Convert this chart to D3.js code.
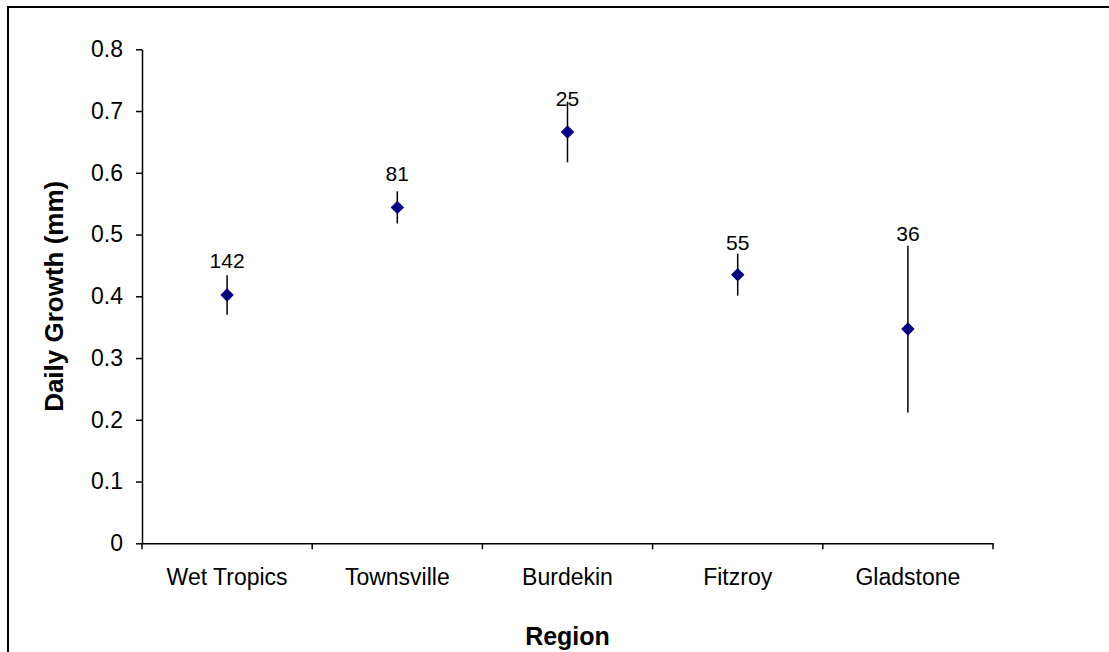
<!DOCTYPE html>
<html>
<head>
<meta charset="utf-8">
<script src="https://cdn.jsdelivr.net/npm/d3@7"></script>
<style>
  html, body { margin: 0; padding: 0; background: #fff; }
  svg { display: block; font-family: "Liberation Sans", Arial, sans-serif; }
</style>
</head>
<body>
<svg id="chart" width="1109" height="652"></svg>
<script>
// Chart data
const regions = ["Wet Tropics", "Townsville", "Burdekin", "Fitzroy", "Gladstone"];
const meanGrowth = [0.402, 0.544, 0.666, 0.435, 0.347];
const errorSize = [0.032, 0.026, 0.049, 0.034, 0.135];
const sampleCounts = [142, 81, 25, 55, 36];
// value (mm) at which each sample-size label sits
const labelAt = [0.446, 0.587, 0.708, 0.475, 0.490];
const yTicks = [0, 0.1, 0.2, 0.3, 0.4, 0.5, 0.6, 0.7, 0.8];

const svg = d3.select("#chart");
const width = +svg.attr("width");
const height = +svg.attr("height");

// outer frame (only top/left edges fall inside the window)
svg.append("rect")
  .attr("x", 8).attr("y", 7)
  .attr("width", width + 10).attr("height", height + 10)
  .attr("fill", "#fff")
  .attr("stroke", "#000")
  .attr("stroke-width", 2);

const plot = { left: 142, right: 993, top: 49.3, bottom: 543.3 };

const x = d3.scaleBand()
  .domain(regions)
  .range([plot.left, plot.right])
  .padding(0);

const y = d3.scaleLinear()
  .domain([0, 0.8])
  .range([plot.bottom, plot.top]);

const data = regions.map((r, i) => ({
  region: r,
  mean: meanGrowth[i],
  err: errorSize[i],
  n: sampleCounts[i],
  label: labelAt[i]
}));

// y axis
const yAxis = svg.append("g")
  .attr("transform", `translate(${plot.left},0)`)
  .call(d3.axisLeft(y)
    .tickValues(yTicks)
    .tickFormat(d => d === 0 ? "0" : d.toFixed(1))
    .tickSize(6)
    .tickSizeOuter(0)
    .tickPadding(13));
yAxis.selectAll("path, line").attr("stroke", "#000").attr("stroke-width", 1.5);
yAxis.selectAll("text")
  .attr("font-size", 23)
  .attr("font-family", "Liberation Sans, Arial, sans-serif")
  .attr("fill", "#000");

// x axis: labels in band centres, ticks on band boundaries
const xAxis = svg.append("g")
  .attr("transform", `translate(0,${plot.bottom})`)
  .call(d3.axisBottom(x).tickSize(0).tickSizeOuter(0).tickPadding(25));
xAxis.select(".domain").attr("stroke", "#000").attr("stroke-width", 1.5);
xAxis.selectAll("text")
  .attr("font-size", 23)
  .attr("font-family", "Liberation Sans, Arial, sans-serif")
  .attr("fill", "#000");

const boundaries = regions.map(r => x(r)).concat([x.range()[1]]);
svg.append("g")
  .selectAll("line")
  .data(boundaries)
  .join("line")
    .attr("x1", d => d).attr("x2", d => d)
    .attr("y1", plot.bottom).attr("y2", plot.bottom + 6)
    .attr("stroke", "#000")
    .attr("stroke-width", 1.5);

// axis titles
svg.append("text")
  .attr("x", (plot.left + plot.right) / 2)
  .attr("y", 645)
  .attr("text-anchor", "middle")
  .attr("font-size", 25)
  .attr("font-weight", "bold")
  .text("Region");

svg.append("text")
  .attr("transform", `translate(63,${(plot.top + plot.bottom) / 2}) rotate(-90)`)
  .attr("text-anchor", "middle")
  .attr("font-size", 26)
  .attr("font-weight", "bold")
  .text("Daily Growth (mm)");

// error bars
svg.append("g")
  .selectAll("line")
  .data(data)
  .join("line")
    .attr("x1", d => x(d.region) + x.bandwidth() / 2)
    .attr("x2", d => x(d.region) + x.bandwidth() / 2)
    .attr("y1", d => y(d.mean + d.err))
    .attr("y2", d => y(d.mean - d.err))
    .attr("stroke", "#000")
    .attr("stroke-width", 1.5);

// diamond markers
const diamond = d3.symbol(d3.symbolSquare, 72);
svg.append("g")
  .selectAll("path")
  .data(data)
  .join("path")
    .attr("d", diamond)
    .attr("transform", d => `translate(${x(d.region) + x.bandwidth() / 2},${y(d.mean)}) rotate(45)`)
    .attr("fill", "#000080")
    .attr("stroke", "#000080")
    .attr("stroke-width", 1);

// sample size labels
svg.append("g")
  .selectAll("text")
  .data(data)
  .join("text")
    .attr("x", d => x(d.region) + x.bandwidth() / 2)
    .attr("y", d => y(d.label))
    .attr("text-anchor", "middle")
    .attr("font-size", 21)
    .attr("fill", "#000")
    .text(d => d.n);
</script>
</body>
</html>
